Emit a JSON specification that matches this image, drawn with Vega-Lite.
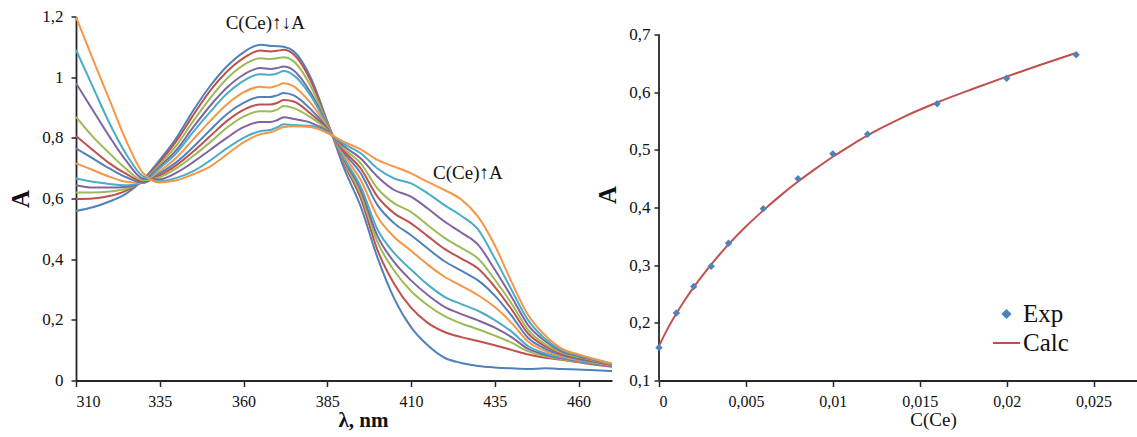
{
  "$schema": "https://vega.github.io/schema/vega-lite/v6.json",
  "padding": {"left": 8, "top": 7.5, "right": 0, "bottom": 0},
  "spacing": -17,
  "config": {
    "font": "Liberation Serif",
    "view": {"stroke": null},
    "style": {"guide-label": {"font": "Liberation Serif"}, "guide-title": {"font": "Liberation Serif"}},
    "axis": {"grid": false, "domain": true, "ticks": true, "domainColor": "#262626", "domainWidth": 1.8, "tickColor": "#262626", "tickWidth": 1.5, "labelColor": "#111", "titleColor": "#111", "labelFont": "Liberation Serif", "titleFont": "Liberation Serif", "labelFontSize": 17}
  },
  "resolve": {"scale": {"color": "independent"}, "legend": {"color": "independent"}},
  "datasets": {
    "spectra": [
      {"lambda": 310, "s01": 0.559, "s02": 0.598, "s03": 0.620, "s04": 0.644, "s05": 0.666, "s06": 0.716, "s07": 0.765, "s08": 0.806, "s09": 0.869, "s10": 0.980, "s11": 1.090, "s12": 1.198},
      {"lambda": 315, "s01": 0.571, "s02": 0.600, "s03": 0.620, "s04": 0.636, "s05": 0.655, "s06": 0.694, "s07": 0.732, "s08": 0.760, "s09": 0.804, "s10": 0.892, "s11": 0.969, "s12": 1.060},
      {"lambda": 320, "s01": 0.590, "s02": 0.608, "s03": 0.623, "s04": 0.636, "s05": 0.648, "s06": 0.672, "s07": 0.699, "s08": 0.716, "s09": 0.749, "s10": 0.804, "s11": 0.848, "s12": 0.925},
      {"lambda": 325, "s01": 0.616, "s02": 0.626, "s03": 0.633, "s04": 0.639, "s05": 0.644, "s06": 0.655, "s07": 0.670, "s08": 0.681, "s09": 0.697, "s10": 0.724, "s11": 0.746, "s12": 0.790},
      {"lambda": 330, "s01": 0.662, "s02": 0.660, "s03": 0.657, "s04": 0.655, "s05": 0.653, "s06": 0.651, "s07": 0.652, "s08": 0.656, "s09": 0.660, "s10": 0.666, "s11": 0.673, "s12": 0.684},
      {"lambda": 335, "s01": 0.727, "s02": 0.720, "s03": 0.712, "s04": 0.705, "s05": 0.700, "s06": 0.690, "s07": 0.683, "s08": 0.676, "s09": 0.670, "s10": 0.663, "s11": 0.657, "s12": 0.653},
      {"lambda": 340, "s01": 0.800, "s02": 0.790, "s03": 0.775, "s04": 0.760, "s05": 0.750, "s06": 0.735, "s07": 0.720, "s08": 0.710, "s09": 0.700, "s10": 0.685, "s11": 0.668, "s12": 0.660},
      {"lambda": 345, "s01": 0.890, "s02": 0.875, "s03": 0.855, "s04": 0.835, "s05": 0.820, "s06": 0.795, "s07": 0.770, "s08": 0.755, "s09": 0.740, "s10": 0.720, "s11": 0.690, "s12": 0.680},
      {"lambda": 350, "s01": 0.970, "s02": 0.955, "s03": 0.930, "s04": 0.905, "s05": 0.885, "s06": 0.855, "s07": 0.825, "s08": 0.805, "s09": 0.785, "s10": 0.760, "s11": 0.725, "s12": 0.705},
      {"lambda": 355, "s01": 1.035, "s02": 1.018, "s03": 0.995, "s04": 0.965, "s05": 0.945, "s06": 0.910, "s07": 0.878, "s08": 0.855, "s09": 0.833, "s10": 0.800, "s11": 0.765, "s12": 0.745},
      {"lambda": 360, "s01": 1.082, "s02": 1.063, "s03": 1.040, "s04": 1.008, "s05": 0.988, "s06": 0.950, "s07": 0.915, "s08": 0.892, "s09": 0.870, "s10": 0.835, "s11": 0.800, "s12": 0.785},
      {"lambda": 365, "s01": 1.107, "s02": 1.088, "s03": 1.062, "s04": 1.030, "s05": 1.010, "s06": 0.968, "s07": 0.935, "s08": 0.910, "s09": 0.888, "s10": 0.852, "s11": 0.822, "s12": 0.812},
      {"lambda": 368, "s01": 1.103, "s02": 1.085, "s03": 1.060, "s04": 1.027, "s05": 1.008, "s06": 0.966, "s07": 0.935, "s08": 0.910, "s09": 0.887, "s10": 0.852, "s11": 0.826, "s12": 0.818},
      {"lambda": 370, "s01": 1.102, "s02": 1.087, "s03": 1.062, "s04": 1.030, "s05": 1.012, "s06": 0.972, "s07": 0.940, "s08": 0.915, "s09": 0.893, "s10": 0.858, "s11": 0.834, "s12": 0.826},
      {"lambda": 372, "s01": 1.100, "s02": 1.090, "s03": 1.066, "s04": 1.035, "s05": 1.020, "s06": 0.980, "s07": 0.948, "s08": 0.925, "s09": 0.905, "s10": 0.868, "s11": 0.845, "s12": 0.836},
      {"lambda": 375, "s01": 1.085, "s02": 1.075, "s03": 1.052, "s04": 1.022, "s05": 1.006, "s06": 0.970, "s07": 0.940, "s08": 0.920, "s09": 0.898, "s10": 0.862, "s11": 0.842, "s12": 0.838},
      {"lambda": 380, "s01": 1.000, "s02": 0.990, "s03": 0.972, "s04": 0.950, "s05": 0.940, "s06": 0.915, "s07": 0.895, "s08": 0.880, "s09": 0.868, "s10": 0.850, "s11": 0.840, "s12": 0.836},
      {"lambda": 385, "s01": 0.855, "s02": 0.852, "s03": 0.848, "s04": 0.843, "s05": 0.840, "s06": 0.836, "s07": 0.832, "s08": 0.829, "s09": 0.826, "s10": 0.822, "s11": 0.819, "s12": 0.816},
      {"lambda": 390, "s01": 0.700, "s02": 0.716, "s03": 0.722, "s04": 0.728, "s05": 0.733, "s06": 0.742, "s07": 0.750, "s08": 0.757, "s09": 0.764, "s10": 0.772, "s11": 0.780, "s12": 0.787},
      {"lambda": 395, "s01": 0.573, "s02": 0.600, "s03": 0.614, "s04": 0.628, "s05": 0.639, "s06": 0.661, "s07": 0.683, "s08": 0.699, "s09": 0.716, "s10": 0.732, "s11": 0.749, "s12": 0.762},
      {"lambda": 400, "s01": 0.405, "s02": 0.430, "s03": 0.456, "s04": 0.476, "s05": 0.498, "s06": 0.540, "s07": 0.578, "s08": 0.606, "s09": 0.633, "s10": 0.672, "s11": 0.699, "s12": 0.727},
      {"lambda": 405, "s01": 0.270, "s02": 0.318, "s03": 0.362, "s04": 0.390, "s05": 0.420, "s06": 0.473, "s07": 0.518, "s08": 0.551, "s09": 0.584, "s10": 0.628, "s11": 0.666, "s12": 0.705},
      {"lambda": 410, "s01": 0.176, "s02": 0.240, "s03": 0.295, "s04": 0.330, "s05": 0.366, "s06": 0.428, "s07": 0.479, "s08": 0.518, "s09": 0.556, "s10": 0.606, "s11": 0.650, "s12": 0.683},
      {"lambda": 415, "s01": 0.116, "s02": 0.190, "s03": 0.248, "s04": 0.282, "s05": 0.316, "s06": 0.382, "s07": 0.435, "s08": 0.476, "s09": 0.512, "s10": 0.567, "s11": 0.617, "s12": 0.655},
      {"lambda": 420, "s01": 0.075, "s02": 0.160, "s03": 0.212, "s04": 0.243, "s05": 0.276, "s06": 0.342, "s07": 0.393, "s08": 0.434, "s09": 0.470, "s10": 0.524, "s11": 0.578, "s12": 0.628},
      {"lambda": 425, "s01": 0.058, "s02": 0.143, "s03": 0.188, "s04": 0.219, "s05": 0.252, "s06": 0.312, "s07": 0.362, "s08": 0.402, "s09": 0.437, "s10": 0.488, "s11": 0.543, "s12": 0.597},
      {"lambda": 430, "s01": 0.048, "s02": 0.130, "s03": 0.169, "s04": 0.198, "s05": 0.230, "s06": 0.281, "s07": 0.330, "s08": 0.369, "s09": 0.402, "s10": 0.448, "s11": 0.498, "s12": 0.540},
      {"lambda": 435, "s01": 0.043, "s02": 0.116, "s03": 0.148, "s04": 0.174, "s05": 0.199, "s06": 0.242, "s07": 0.280, "s08": 0.309, "s09": 0.333, "s10": 0.366, "s11": 0.403, "s12": 0.446},
      {"lambda": 440, "s01": 0.040, "s02": 0.101, "s03": 0.125, "s04": 0.143, "s05": 0.161, "s06": 0.190, "s07": 0.214, "s08": 0.235, "s09": 0.254, "s10": 0.276, "s11": 0.299, "s12": 0.325},
      {"lambda": 445, "s01": 0.038, "s02": 0.086, "s03": 0.096, "s04": 0.104, "s05": 0.113, "s06": 0.128, "s07": 0.140, "s08": 0.154, "s09": 0.166, "s10": 0.182, "s11": 0.198, "s12": 0.215},
      {"lambda": 450, "s01": 0.040, "s02": 0.075, "s03": 0.080, "s04": 0.085, "s05": 0.090, "s06": 0.098, "s07": 0.105, "s08": 0.113, "s09": 0.120, "s10": 0.130, "s11": 0.138, "s12": 0.149},
      {"lambda": 455, "s01": 0.038, "s02": 0.068, "s03": 0.070, "s04": 0.073, "s05": 0.076, "s06": 0.080, "s07": 0.084, "s08": 0.088, "s09": 0.092, "s10": 0.096, "s11": 0.100, "s12": 0.105},
      {"lambda": 460, "s01": 0.036, "s02": 0.060, "s03": 0.062, "s04": 0.064, "s05": 0.066, "s06": 0.068, "s07": 0.071, "s08": 0.074, "s09": 0.077, "s10": 0.080, "s11": 0.083, "s12": 0.086},
      {"lambda": 465, "s01": 0.034, "s02": 0.052, "s03": 0.054, "s04": 0.055, "s05": 0.057, "s06": 0.059, "s07": 0.061, "s08": 0.063, "s09": 0.065, "s10": 0.067, "s11": 0.069, "s12": 0.070},
      {"lambda": 470, "s01": 0.031, "s02": 0.045, "s03": 0.046, "s04": 0.047, "s05": 0.049, "s06": 0.050, "s07": 0.051, "s08": 0.052, "s09": 0.053, "s10": 0.054, "s11": 0.055, "s12": 0.056}
    ],
    "labels": [
      {"lambda": 366.5, "A": 1.179, "label": "C(Ce)↑↓A"},
      {"lambda": 427, "A": 0.684, "label": "C(Ce)↑A"}
    ],
    "axisline": [
      {"C": 0, "A": 0.1, "A2": 0.7}
    ],
    "fit": [
      {"C": 0, "A": 0.160, "series": "Calc"},
      {"C": 0.0005, "A": 0.190, "series": "Calc"},
      {"C": 0.001, "A": 0.216, "series": "Calc"},
      {"C": 0.0015, "A": 0.240, "series": "Calc"},
      {"C": 0.002, "A": 0.262, "series": "Calc"},
      {"C": 0.0025, "A": 0.282, "series": "Calc"},
      {"C": 0.003, "A": 0.301, "series": "Calc"},
      {"C": 0.004, "A": 0.336, "series": "Calc"},
      {"C": 0.005, "A": 0.367, "series": "Calc"},
      {"C": 0.006, "A": 0.395, "series": "Calc"},
      {"C": 0.007, "A": 0.421, "series": "Calc"},
      {"C": 0.008, "A": 0.445, "series": "Calc"},
      {"C": 0.009, "A": 0.467, "series": "Calc"},
      {"C": 0.010, "A": 0.488, "series": "Calc"},
      {"C": 0.011, "A": 0.507, "series": "Calc"},
      {"C": 0.012, "A": 0.525, "series": "Calc"},
      {"C": 0.013, "A": 0.541, "series": "Calc"},
      {"C": 0.014, "A": 0.556, "series": "Calc"},
      {"C": 0.016, "A": 0.582, "series": "Calc"},
      {"C": 0.018, "A": 0.605, "series": "Calc"},
      {"C": 0.020, "A": 0.627, "series": "Calc"},
      {"C": 0.022, "A": 0.648, "series": "Calc"},
      {"C": 0.024, "A": 0.668, "series": "Calc"}
    ],
    "exp": [
      {"C": 0, "A": 0.157, "series": "Exp"},
      {"C": 0.001, "A": 0.217, "series": "Exp"},
      {"C": 0.002, "A": 0.263, "series": "Exp"},
      {"C": 0.003, "A": 0.298, "series": "Exp"},
      {"C": 0.004, "A": 0.338, "series": "Exp"},
      {"C": 0.006, "A": 0.398, "series": "Exp"},
      {"C": 0.008, "A": 0.450, "series": "Exp"},
      {"C": 0.010, "A": 0.493, "series": "Exp"},
      {"C": 0.012, "A": 0.527, "series": "Exp"},
      {"C": 0.016, "A": 0.580, "series": "Exp"},
      {"C": 0.020, "A": 0.624, "series": "Exp"},
      {"C": 0.024, "A": 0.665, "series": "Exp"}
    ]
  },
  "hconcat": [
    {
      "width": 536,
      "height": 364,
      "layer": [
        {
          "data": {"name": "spectra"},
          "transform": [{"fold": ["s01", "s02", "s03", "s04", "s05", "s06", "s07", "s08", "s09", "s10", "s11", "s12"], "as": ["series", "A"]}],
          "mark": {"type": "line", "strokeWidth": 2, "interpolate": "monotone", "clip": true},
          "encoding": {
            "x": {"field": "lambda", "type": "quantitative", "scale": {"domain": [310, 470], "nice": false, "zero": false},
              "axis": {"values": [310, 335, 360, 385, 410, 435, 460], "format": "d", "labelFont": "Liberation Serif", "labelFontSize": 16, "titleFont": "Liberation Serif", "title": "λ, nm", "titleFontWeight": "bold", "titleFontSize": 21, "titleX": 287, "titleAlign": "center", "titlePadding": 0, "tickSize": 6, "labelPadding": 7}},
            "y": {"field": "A", "type": "quantitative", "scale": {"domain": [0, 1.2], "nice": false},
              "axis": {"values": [0, 0.2, 0.4, 0.6, 0.8, 1, 1.2], "labelExpr": "replace(format(datum.value, '.1~f'), '.', ',')", "labelFont": "Liberation Serif", "titleFont": "Liberation Serif", "title": "A", "titleFontWeight": "bold", "titleFontSize": 25, "titlePadding": 8, "tickSize": 5, "labelPadding": 8}},
            "color": {"field": "series", "type": "nominal",
              "scale": {"domain": ["s01", "s02", "s03", "s04", "s05", "s06", "s07", "s08", "s09", "s10", "s11", "s12"],
                "range": ["#4F81BD", "#C0504D", "#9BBB59", "#8064A2", "#4BACC6", "#F79646", "#4F81BD", "#C0504D", "#9BBB59", "#8064A2", "#4BACC6", "#F79646"]},
              "legend": null}
          }
        },
        {
          "data": {"name": "labels"},
          "mark": {"type": "text", "fontSize": 19, "font": "Liberation Serif", "color": "#111", "align": "center", "baseline": "middle"},
          "encoding": {
            "x": {"field": "lambda", "type": "quantitative"},
            "y": {"field": "A", "type": "quantitative"},
            "text": {"field": "label"}
          }
        }
      ]
    },
    {
      "width": 478,
      "height": 364,
      "layer": [
        {
          "data": {"name": "axisline"},
          "mark": {"type": "rule", "color": "#262626", "strokeWidth": 1.8},
          "encoding": {
            "x": {"field": "C", "type": "quantitative"},
            "y": {"field": "A", "type": "quantitative"},
            "y2": {"field": "A2"}
          }
        },
        {
          "data": {"name": "fit"},
          "mark": {"type": "line", "strokeWidth": 2, "interpolate": "monotone"},
          "encoding": {
            "x": {"field": "C", "type": "quantitative", "scale": {"domain": [0, 0.0275], "nice": false},
              "axis": {"values": [0, 0.005, 0.01, 0.015, 0.02, 0.025], "labelExpr": "replace(format(datum.value, '.3~f'), '.', ',')", "labelFont": "Liberation Serif", "labelFontSize": 16, "titleFont": "Liberation Serif", "title": "C(Ce)", "titleFontWeight": "normal", "titleFontSize": 19, "titleX": 274, "titleAlign": "center", "titlePadding": 1, "tickSize": 6, "labelPadding": 7}},
            "y": {"field": "A", "type": "quantitative", "scale": {"domain": [0.1, 0.7312], "nice": false, "zero": false},
              "axis": {"values": [0.1, 0.2, 0.3, 0.4, 0.5, 0.6, 0.7], "domain": false, "labelExpr": "replace(format(datum.value, '.1~f'), '.', ',')", "labelFont": "Liberation Serif", "titleFont": "Liberation Serif", "title": "A", "titleFontWeight": "bold", "titleFontSize": 25, "titlePadding": 8, "titleY": 178, "tickSize": 5, "labelPadding": 4}},
            "color": {"field": "series", "type": "nominal", "scale": {"domain": ["Exp", "Calc"], "range": ["#4F81BD", "#C0504D"]},
              "legend": {"title": null, "orient": "none", "legendX": 335, "legendY": 285, "padding": 0, "labelFont": "Liberation Serif", "labelFontSize": 25, "labelColor": "#111", "symbolSize": 729, "labelOffset": 4, "rowPadding": 3,
                "encode": {"symbols": {"update": {
                  "shape": {"signal": "datum.value === 'Calc' ? 'stroke' : 'diamond'"},
                  "size": {"signal": "datum.value === 'Calc' ? 729 : 55"},
                  "fill": {"signal": "datum.value === 'Calc' ? 'transparent' : '#4F81BD'"},
                  "stroke": {"signal": "datum.value === 'Calc' ? '#C0504D' : 'transparent'"},
                  "strokeWidth": {"value": 2},
                  "opacity": {"value": 1}}}}}}
          }
        },
        {
          "data": {"name": "exp"},
          "mark": {"type": "point", "shape": "diamond", "filled": true, "size": 55, "opacity": 1},
          "encoding": {
            "x": {"field": "C", "type": "quantitative"},
            "y": {"field": "A", "type": "quantitative"},
            "color": {"field": "series", "type": "nominal", "scale": {"domain": ["Exp", "Calc"], "range": ["#4F81BD", "#C0504D"]},
              "legend": {"title": null, "orient": "none", "legendX": 335, "legendY": 285, "padding": 0, "labelFont": "Liberation Serif", "labelFontSize": 25, "labelColor": "#111", "symbolSize": 729, "labelOffset": 4, "rowPadding": 3,
                "encode": {"symbols": {"update": {
                  "shape": {"signal": "datum.value === 'Calc' ? 'stroke' : 'diamond'"},
                  "size": {"signal": "datum.value === 'Calc' ? 729 : 55"},
                  "fill": {"signal": "datum.value === 'Calc' ? 'transparent' : '#4F81BD'"},
                  "stroke": {"signal": "datum.value === 'Calc' ? '#C0504D' : 'transparent'"},
                  "strokeWidth": {"value": 2},
                  "opacity": {"value": 1}}}}}}
          }
        }
      ]
    }
  ]
}
